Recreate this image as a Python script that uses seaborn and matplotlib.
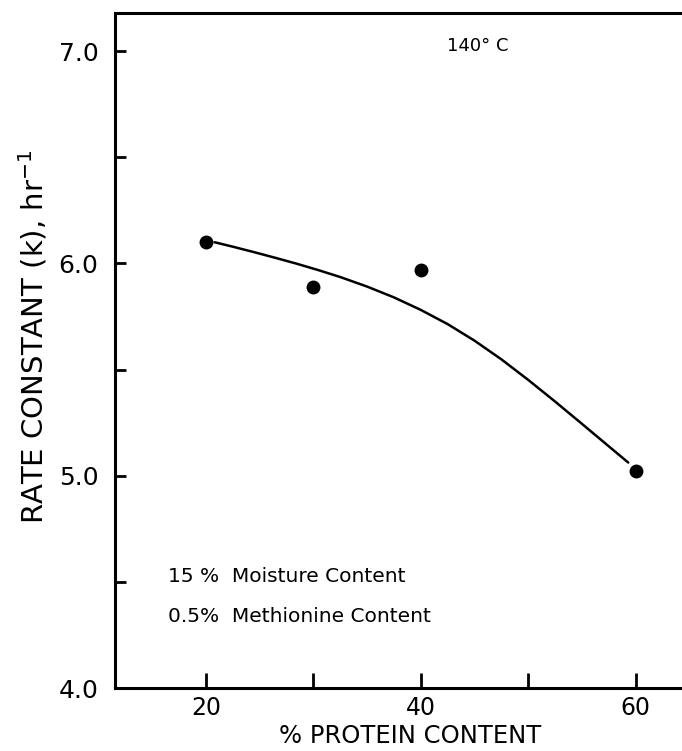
import matplotlib
matplotlib.use("Agg")
import matplotlib.pyplot as plt
import seaborn as sns
import pandas as pd

# Measured rate constants at each protein level (140 °C)
protein = [20, 30, 40, 60]
rate_k = [6.10, 5.89, 5.97, 5.02]

# Smooth trend curve drawn through the measurements
curve_protein = [20.8, 22.5, 24.5, 26.5, 28.5, 30.5, 32.5, 35.0, 37.5, 40.0,
                 42.5, 45.0, 47.5, 50.0, 52.5, 55.0, 57.5, 59.3]
curve_k = [6.100, 6.079, 6.053, 6.026, 5.998, 5.968, 5.936, 5.891, 5.840,
           5.781, 5.714, 5.636, 5.548, 5.451, 5.349, 5.244, 5.138, 5.062]

x_ticks = [20, 30, 40, 50, 60]
x_ticklabels = ["20", "", "40", "", "60"]
y_major = [4.0, 5.0, 6.0, 7.0]
y_minor = [4.5, 5.5, 6.5]

points = pd.DataFrame({"protein": protein, "k": rate_k})
curve = pd.DataFrame({"protein": curve_protein, "k": curve_k})

sns.set_theme(style="ticks")
plt.rcParams["font.family"] = ["DejaVu Sans"]
plt.rcParams["text.color"] = "black"
plt.rcParams["axes.labelcolor"] = "black"

fig = plt.figure(figsize=(6.82, 7.51), dpi=100)
ax = fig.add_axes([115 / 682, 1 - 688 / 751, 1 - 115 / 682, (688 - 13) / 751])

sns.lineplot(data=curve, x="protein", y="k", sort=False, color="black",
             linewidth=1.8, ax=ax)
sns.scatterplot(data=points, x="protein", y="k", color="black", s=100,
                edgecolor="black", linewidth=0, ax=ax, zorder=3)

ax.set_xlim(11.53, 64.3)
ax.set_ylim(4.0, 7.18)

ax.set_xticks(x_ticks)
ax.set_xticklabels(x_ticklabels)
ax.set_yticks(y_major)
ax.set_yticklabels([f"{v:.1f}" for v in y_major])
ax.set_yticks(y_minor, minor=True)

ax.tick_params(axis="both", which="both", direction="in", width=2,
               colors="black", labelcolor="black")
ax.tick_params(axis="x", which="major", length=11, pad=6, labelsize=17)
ax.tick_params(axis="y", which="major", length=8, pad=12, labelsize=18)
ax.tick_params(axis="y", which="minor", length=8)

for side in ["left", "top", "bottom"]:
    ax.spines[side].set_linewidth(2.2)
    ax.spines[side].set_color("black")
ax.spines["right"].set_visible(False)

ax.set_xlabel("% PROTEIN CONTENT", fontsize=17.5)
ax.set_ylabel(r"RATE CONSTANT (k), hr$^{-1}$", fontsize=21)
ax.xaxis.set_label_coords((410 - 115) / 567, -0.054)
ax.yaxis.set_label_coords(-0.115, 0.52)

fig.text(478 / 682, 1 - 46 / 751, "140° C", fontsize=13, ha="center", va="center")

fig.text(168 / 682, 1 - 577 / 751, "15 %  Moisture Content", fontsize=14.5,
         ha="left", va="center")
fig.text(168 / 682, 1 - 616 / 751, "0.5%  Methionine Content", fontsize=14.5,
         ha="left", va="center")

fig.savefig("out.png", dpi=100, facecolor="white")
